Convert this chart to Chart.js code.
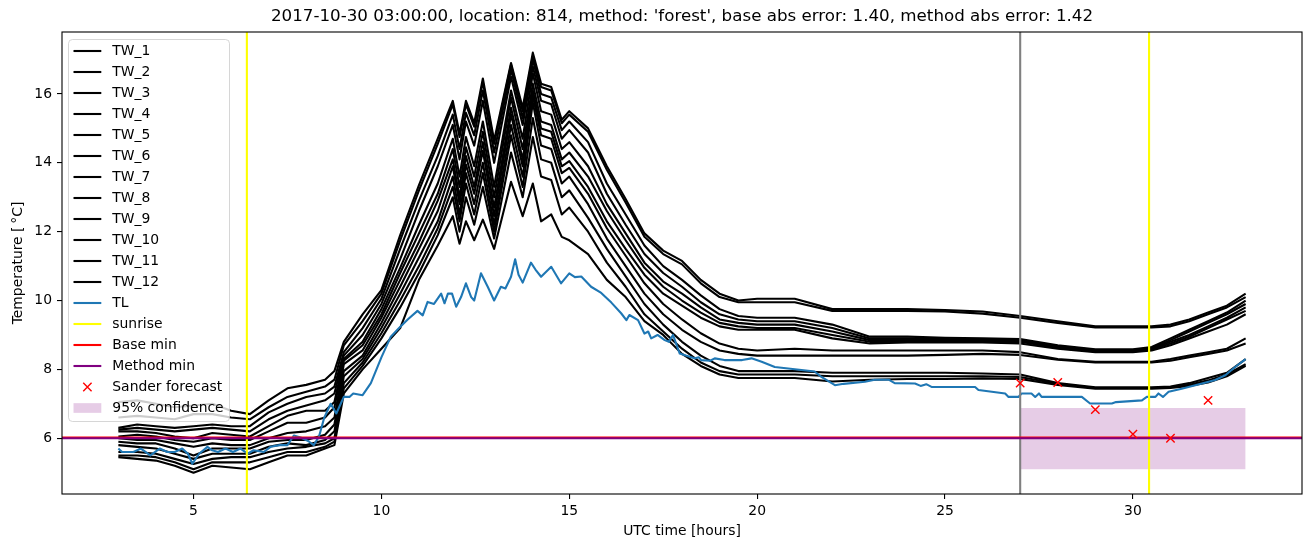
<!DOCTYPE html>
<html>
<head>
<meta charset="utf-8">
<title>TW forecast</title>
<script src="https://cdn.jsdelivr.net/npm/chart.js@4.4.1/dist/chart.umd.min.js"></script>
<style>
  html, body { margin: 0; padding: 0; background: #fff; }
  #wrap { width: 1311px; height: 547px; }
</style>
</head>
<body>
<div id="wrap"><canvas id="chart" width="1311" height="547"></canvas></div>
<script>
// Road temperature plot - TW sensors, TL and Sander forecast

// Hours for the TW sensor lines
const twHours = [3, 3.5, 4, 4.5, 5, 5.5, 6, 6.5, 7, 7.5, 8, 8.5, 8.75, 9, 9.5, 10, 10.5, 11, 11.5, 11.9,
  12.08, 12.25, 12.47, 12.7, 13.0, 13.45, 13.76, 14.03, 14.25, 14.52, 14.8, 15.0, 15.5, 16, 16.5, 17, 17.5, 18, 18.5, 19,
  19.5, 20, 21, 22, 23, 24, 25, 26, 27, 28, 29, 30, 30.5, 31, 31.5, 32, 32.5, 33];

const tw1 = [7.05, 7.1, 7.0, 6.9, 6.95, 7.0, 6.8, 6.7, 7.1, 7.45, 7.55, 7.7, 7.95, 8.8, 9.6, 10.3, 11.9, 13.35, 14.7, 15.8, 14.85, 15.8, 15.15, 16.45, 14.65, 16.9, 15.6, 17.2, 16.3, 16.2, 15.25, 15.5, 15.0, 13.9, 12.95, 11.95, 11.45, 11.15, 10.6, 10.2, 10.0, 10.05, 10.05, 9.75, 9.75, 9.75, 9.72, 9.68, 9.55, 9.4, 9.25, 9.25, 9.25, 9.3, 9.45, 9.65, 9.85, 10.2];
const tw2 = [6.6, 6.65, 6.6, 6.55, 6.7, 6.7, 6.6, 6.55, 6.9, 7.2, 7.35, 7.5, 7.7, 8.7, 9.4, 10.2, 11.75, 13.2, 14.55, 15.7, 14.75, 15.7, 15.05, 16.35, 14.55, 16.85, 15.5, 17.1, 16.2, 16.1, 15.15, 15.4, 14.9, 13.8, 12.85, 11.85, 11.35, 11.05, 10.5, 10.1, 9.95, 9.95, 9.95, 9.7, 9.7, 9.7, 9.68, 9.62, 9.5, 9.35, 9.22, 9.22, 9.22, 9.25, 9.4, 9.6, 9.8, 10.1];
const tw3 = [6.3, 6.4, 6.35, 6.3, 6.35, 6.4, 6.35, 6.35, 6.75, 7.0, 7.2, 7.3, 7.5, 8.5, 9.2, 10.05, 11.5, 12.9, 14.2, 15.4, 14.4, 15.45, 14.8, 16.1, 14.3, 16.7, 15.3, 17.0, 16.0, 15.9, 14.95, 15.2, 14.6, 13.4, 12.5, 11.6, 11.0, 10.6, 10.15, 9.75, 9.55, 9.5, 9.5, 9.3, 8.95, 8.95, 8.92, 8.9, 8.88, 8.7, 8.58, 8.58, 8.65, 8.9, 9.15, 9.4, 9.65, 10.0];
const tw4 = [6.25, 6.3, 6.25, 6.2, 6.25, 6.3, 6.25, 6.2, 6.55, 6.8, 6.95, 7.1, 7.3, 8.4, 9.0, 9.9, 11.2, 12.6, 13.9, 15.1, 14.1, 15.2, 14.5, 15.8, 14.0, 16.5, 15.1, 16.8, 15.8, 15.7, 14.7, 14.95, 14.3, 13.1, 12.2, 11.35, 10.8, 10.4, 9.95, 9.6, 9.45, 9.4, 9.4, 9.2, 8.9, 8.9, 8.88, 8.87, 8.85, 8.68, 8.56, 8.56, 8.62, 8.85, 9.1, 9.35, 9.6, 9.9];
const tw5 = [6.2, 6.2, 6.15, 6.05, 6.0, 6.15, 6.1, 6.05, 6.35, 6.65, 6.8, 6.8, 7.05, 8.3, 8.8, 9.75, 10.95, 12.2, 13.4, 14.7, 13.6, 14.75, 13.9, 15.2, 13.3, 16.1, 14.7, 16.6, 15.5, 15.4, 14.4, 14.6, 13.9, 12.8, 11.95, 11.1, 10.55, 10.2, 9.8, 9.45, 9.35, 9.3, 9.3, 9.1, 8.85, 8.85, 8.85, 8.83, 8.82, 8.65, 8.54, 8.54, 8.6, 8.8, 9.0, 9.25, 9.5, 9.8];
const tw6 = [6.05, 6.1, 6.05, 5.95, 5.9, 6.0, 5.95, 5.95, 6.2, 6.45, 6.45, 6.6, 6.9, 8.25, 8.7, 9.6, 10.8, 11.95, 13.1, 14.4, 13.3, 14.45, 13.6, 14.9, 13.0, 15.9, 14.4, 16.3, 15.2, 15.1, 14.1, 14.3, 13.6, 12.6, 11.75, 10.95, 10.4, 10.0, 9.65, 9.35, 9.25, 9.2, 9.2, 9.0, 8.8, 8.8, 8.8, 8.8, 8.8, 8.62, 8.52, 8.52, 8.58, 8.75, 8.95, 9.2, 9.45, 9.7];
const tw7 = [6.0, 5.95, 5.95, 5.85, 5.75, 5.85, 5.8, 5.8, 6.0, 6.15, 6.2, 6.35, 6.6, 8.15, 8.55, 9.5, 10.6, 11.7, 12.9, 14.1, 13.0, 14.2, 13.3, 14.6, 12.7, 15.6, 14.1, 16.1, 15.0, 14.9, 13.9, 14.05, 13.3, 12.3, 11.5, 10.75, 10.2, 9.85, 9.5, 9.25, 9.15, 9.15, 9.15, 8.9, 8.75, 8.78, 8.78, 8.78, 8.75, 8.6, 8.5, 8.5, 8.55, 8.7, 8.9, 9.1, 9.3, 9.6];
const tw8 = [5.9, 5.85, 5.85, 5.7, 5.5, 5.7, 5.7, 5.7, 5.9, 5.95, 5.95, 6.1, 6.4, 7.95, 8.4, 9.35, 10.4, 11.5, 12.6, 13.9, 12.8, 13.95, 13.1, 14.35, 12.45, 15.4, 13.9, 15.95, 14.8, 14.7, 13.7, 13.85, 13.1, 12.1, 11.3, 10.5, 9.9, 9.45, 9.05, 8.75, 8.6, 8.55, 8.6, 8.55, 8.55, 8.55, 8.55, 8.55, 8.5, 8.3, 8.22, 8.22, 8.22, 8.3, 8.4, 8.5, 8.6, 8.9];
const tw9 = [5.8, 5.75, 5.7, 5.55, 5.4, 5.55, 5.55, 5.55, 5.75, 5.85, 5.8, 5.95, 6.2, 7.8, 8.3, 9.2, 10.2, 11.25, 12.3, 13.6, 12.5, 13.7, 12.8, 14.0, 12.2, 15.1, 13.6, 15.75, 14.5, 14.4, 13.4, 13.6, 12.8, 11.8, 11.0, 10.2, 9.6, 9.15, 8.8, 8.55, 8.45, 8.4, 8.4, 8.4, 8.4, 8.4, 8.42, 8.45, 8.42, 8.28, 8.2, 8.2, 8.2, 8.25, 8.35, 8.45, 8.55, 8.75];
const tw10 = [5.6, 5.6, 5.55, 5.4, 5.25, 5.4, 5.45, 5.45, 5.6, 5.7, 5.75, 5.85, 6.0, 7.6, 8.2, 9.05, 10.0, 11.0, 12.1, 13.3, 12.3, 13.4, 12.5, 13.7, 12.0, 14.8, 13.3, 15.3, 14.1, 14.0, 13.0, 13.2, 12.4, 11.5, 10.7, 9.9, 9.3, 8.8, 8.4, 8.1, 7.95, 7.95, 7.95, 7.9, 7.9, 7.9, 7.9, 7.88, 7.85, 7.6, 7.48, 7.48, 7.48, 7.5, 7.6, 7.75, 7.9, 8.3];
const tw11 = [5.5, 5.5, 5.45, 5.3, 5.1, 5.3, 5.3, 5.3, 5.45, 5.6, 5.6, 5.75, 5.9, 7.45, 8.1, 8.9, 9.8, 10.8, 11.9, 13.0, 12.0, 13.0, 12.2, 13.3, 11.8, 14.3, 13.0, 14.75, 13.6, 13.5, 12.5, 12.7, 12.0, 11.1, 10.4, 9.6, 9.1, 8.6, 8.2, 7.95, 7.85, 7.85, 7.85, 7.8, 7.8, 7.8, 7.8, 7.8, 7.78, 7.58, 7.46, 7.46, 7.46, 7.48, 7.55, 7.68, 7.85, 8.15];
const tw12 = [5.45, 5.4, 5.35, 5.2, 5.0, 5.2, 5.15, 5.1, 5.3, 5.5, 5.5, 5.7, 5.8, 7.3, 8.0, 8.6, 9.2, 10.6, 11.6, 12.45, 11.65, 12.3, 11.75, 12.35, 11.5, 13.45, 12.45, 13.4, 12.3, 12.5, 11.85, 11.75, 11.35, 10.6, 10.1, 9.4, 9.0, 8.45, 8.1, 7.85, 7.75, 7.75, 7.75, 7.65, 7.7, 7.72, 7.72, 7.74, 7.72, 7.55, 7.44, 7.44, 7.44, 7.46, 7.52, 7.62, 7.8, 8.1];

const twSeries = [tw1, tw2, tw3, tw4, tw5, tw6, tw7, tw8, tw9, tw10, tw11, tw12];
const twNames = ['TW_1', 'TW_2', 'TW_3', 'TW_4', 'TW_5', 'TW_6', 'TW_7', 'TW_8', 'TW_9', 'TW_10', 'TW_11', 'TW_12'];

// TL (air temperature)
const tlHours = [3.0, 3.1, 3.4, 3.6, 3.85, 4.1, 4.3, 4.5, 4.7, 4.85, 4.97, 5.15, 5.37, 5.5, 5.65, 5.85, 6.05, 6.25, 6.44, 6.6,
  6.87, 7.05, 7.3, 7.5, 7.67, 7.85, 8.05, 8.2, 8.34, 8.48, 8.65, 8.8, 9.0, 9.15, 9.25, 9.5, 9.72, 10.0, 10.25, 10.47,
  10.7, 10.96, 11.1, 11.23, 11.4, 11.59, 11.68, 11.77, 11.88, 11.99, 12.12, 12.25, 12.39, 12.47, 12.65, 12.83, 13.0, 13.18, 13.3, 13.45,
  13.56, 13.65, 13.76, 13.98, 14.1, 14.25, 14.52, 14.78, 15.0, 15.15, 15.32, 15.58, 15.85, 16.12, 16.38, 16.52, 16.6, 16.83, 17.0, 17.1,
  17.18, 17.35, 17.54, 17.65, 17.76, 17.94, 18.1, 18.33, 18.45, 18.51, 18.75, 18.87, 19.13, 19.6, 19.85, 20.12, 20.47, 21.18, 21.53, 21.71,
  22.07, 22.3, 22.87, 23.13, 23.5, 23.66, 24.2, 24.35, 24.5, 24.64, 25.8, 25.89, 26.6, 26.69, 26.95, 27.04, 27.3, 27.4, 27.5, 27.57,
  28.64, 28.86, 29.44, 29.55, 30.24, 30.37, 30.6, 30.68, 30.8, 30.95, 31.3, 31.84, 32.19, 32.46, 32.72, 33.0];
const tlTemp = [5.7, 5.6, 5.6, 5.7, 5.5, 5.7, 5.6, 5.6, 5.7, 5.55, 5.26, 5.55, 5.75, 5.65, 5.6, 5.7, 5.6, 5.7, 5.55, 5.65,
  5.6, 5.75, 5.8, 5.8, 6.08, 6.02, 5.92, 5.8, 6.05, 6.6, 7.0, 6.72, 7.2, 7.2, 7.3, 7.25, 7.6, 8.35, 8.95, 9.2,
  9.45, 9.7, 9.57, 9.96, 9.9, 10.2, 9.92, 10.2, 10.2, 9.82, 10.1, 10.5, 10.1, 10.0, 10.79, 10.4, 10.0, 10.4, 10.35, 10.69,
  11.2, 10.75, 10.52, 11.1, 10.9, 10.69, 10.98, 10.5, 10.79, 10.68, 10.7, 10.4, 10.22, 9.94, 9.63, 9.43, 9.58, 9.43, 9.04, 9.1,
  8.9, 9.0, 8.85, 8.8, 9.0, 8.46, 8.4, 8.32, 8.35, 8.27, 8.25, 8.32, 8.27, 8.27, 8.32, 8.22, 8.07, 7.98, 7.94, 7.78,
  7.54, 7.58, 7.64, 7.7, 7.7, 7.6, 7.59, 7.52, 7.57, 7.49, 7.49, 7.4, 7.3, 7.2, 7.2, 7.3, 7.3, 7.2, 7.3, 7.2,
  7.2, 7.01, 7.01, 7.05, 7.1, 7.2, 7.2, 7.3, 7.2, 7.35, 7.44, 7.59, 7.69, 7.83, 8.07, 8.3];

// Sander forecast and its 95% band
const sanderHours = [27, 28, 29, 30, 31, 32];
const sanderTemp = [7.6, 7.62, 6.83, 6.12, 6.0, 7.1];
const confHours = [27, 33];
const confLow = [5.1, 5.1];
const confHigh = [6.88, 6.88];

// Reference lines
const sunriseHours = [6.42, 30.43];
const nowHours = [27];
const baseMin = 6.02;
const methodMin = 6.0;

// Axes
const xTicks = [5, 10, 15, 20, 25, 30];
const yTicks = [6, 8, 10, 12, 14, 16];
const xRange = [1.5, 34.5];
const yRange = [4.38, 17.8];

const titleText = "2017-10-30 03:00:00, location: 814, method: 'forest', base abs error: 1.40, method abs error: 1.42";

const FONT = '"DejaVu Sans", "Liberation Sans", sans-serif';
const TL_COLOR = '#1f77b4';
const CONF_FILL = 'rgba(128, 0, 128, 0.2)';
const LW = 2.1;

const pts = (xs, ys) => xs.map((x, i) => ({ x: x, y: ys[i] }));

// Build datasets in matplotlib drawing order (later = on top)
const datasets = [];
datasets.push({ label: 'conf_low', data: pts(confHours, confLow), borderColor: 'rgba(0,0,0,0)', borderWidth: 0, pointRadius: 0, fill: false });
datasets.push({ label: '95% confidence', data: pts(confHours, confHigh), borderColor: 'rgba(0,0,0,0)', borderWidth: 0, pointRadius: 0, fill: '-1', backgroundColor: CONF_FILL });
twSeries.forEach((series, i) => {
    datasets.push({ label: twNames[i], data: pts(twHours, series), borderColor: '#000000', borderWidth: LW, pointRadius: 0, fill: false });
});
datasets.push({ label: 'TL', data: pts(tlHours, tlTemp), borderColor: TL_COLOR, borderWidth: LW, pointRadius: 0, fill: false });
const tlIndex = datasets.length - 1;
datasets.push({ label: 'Sander forecast', data: pts(sanderHours, sanderTemp), showLine: false, borderColor: '#ff0000', backgroundColor: '#ff0000',
    pointStyle: 'crossRot', pointRadius: 5.9, pointBorderWidth: 1.4, fill: false });
datasets.forEach((d, i) => { d.order = datasets.length - i; d.borderJoinStyle = 'round'; });

const legendItems = [
    ...twNames.map(n => ({ label: n, kind: 'line', color: '#000000' })),
    { label: 'TL', kind: 'line', color: TL_COLOR },
    { label: 'sunrise', kind: 'line', color: '#ffff00' },
    { label: 'Base min', kind: 'line', color: '#ff0000' },
    { label: 'Method min', kind: 'line', color: '#800080' },
    { label: 'Sander forecast', kind: 'marker', color: '#ff0000' },
    { label: '95% confidence', kind: 'patch', color: CONF_FILL }
];

// Vertical / horizontal reference lines, drawn right after TL
const refLines = {
    id: 'refLines',
    afterDatasetDraw(chart, args) {
        if (args.index !== tlIndex) return;
        const ctx = chart.ctx, ca = chart.chartArea;
        const xs = chart.scales.x, ys = chart.scales.y;
        ctx.save();
        ctx.beginPath();
        ctx.rect(ca.left, ca.top, ca.right - ca.left, ca.bottom - ca.top);
        ctx.clip();
        ctx.lineWidth = LW;
        const vline = (h, color) => {
            const px = xs.getPixelForValue(h);
            ctx.strokeStyle = color;
            ctx.beginPath(); ctx.moveTo(px, ca.top); ctx.lineTo(px, ca.bottom); ctx.stroke();
        };
        const hline = (v, color) => {
            const py = ys.getPixelForValue(v);
            ctx.strokeStyle = color;
            ctx.beginPath(); ctx.moveTo(ca.left, py); ctx.lineTo(ca.right, py); ctx.stroke();
        };
        nowHours.forEach(h => vline(h, '#808080'));
        sunriseHours.forEach(h => vline(h, '#ffff00'));
        hline(baseMin, '#ff0000');
        hline(methodMin, '#800080');
        ctx.restore();
    }
};

// Frame, title, axis labels and legend
const decorations = {
    id: 'decorations',
    afterDatasetsDraw(chart) {
        const ctx = chart.ctx, ca = chart.chartArea;
        ctx.save();
        ctx.strokeStyle = '#000';
        ctx.lineWidth = 1.1;
        ctx.strokeRect(ca.left, ca.top, ca.right - ca.left, ca.bottom - ca.top);
        ctx.restore();
    },
    afterDraw(chart) {
        const ctx = chart.ctx, ca = chart.chartArea;
        ctx.save();
        ctx.fillStyle = '#000';
        ctx.textAlign = 'center';
        ctx.textBaseline = 'middle';
        ctx.font = '16.7px ' + FONT;
        ctx.fillText(titleText, (ca.left + ca.right) / 2, 17);

        ctx.font = '13.9px ' + FONT;
        ctx.fillText('UTC time [hours]', (ca.left + ca.right) / 2, 531);
        ctx.save();
        ctx.translate(18, (ca.top + ca.bottom) / 2);
        ctx.rotate(-Math.PI / 2);
        ctx.fillText('Temperature [\u2009\u00B0C]', 0, 0);
        ctx.restore();

        drawLegend(ctx);
        ctx.restore();
    }
};

function drawLegend(ctx) {
    const x0 = 68.5, y0 = 39.5, w = 161, h = 382, r = 4;
    ctx.save();
    ctx.beginPath();
    ctx.moveTo(x0 + r, y0);
    ctx.lineTo(x0 + w - r, y0);
    ctx.arcTo(x0 + w, y0, x0 + w, y0 + r, r);
    ctx.lineTo(x0 + w, y0 + h - r);
    ctx.arcTo(x0 + w, y0 + h, x0 + w - r, y0 + h, r);
    ctx.lineTo(x0 + r, y0 + h);
    ctx.arcTo(x0, y0 + h, x0, y0 + h - r, r);
    ctx.lineTo(x0, y0 + r);
    ctx.arcTo(x0, y0, x0 + r, y0, r);
    ctx.closePath();
    ctx.fillStyle = 'rgba(255,255,255,0.8)';
    ctx.fill();
    ctx.strokeStyle = 'rgba(204,204,204,0.8)';
    ctx.lineWidth = 1;
    ctx.stroke();

    const hx0 = 73.5, hx1 = 101.3;
    legendItems.forEach((item, i) => {
        const cy = 51 + i * 21.0;
        if (item.kind === 'line') {
            ctx.strokeStyle = item.color;
            ctx.lineWidth = LW;
            ctx.beginPath(); ctx.moveTo(hx0, cy); ctx.lineTo(hx1, cy); ctx.stroke();
        } else if (item.kind === 'marker') {
            const cx = (hx0 + hx1) / 2, s = 4.17;
            ctx.strokeStyle = item.color;
            ctx.lineWidth = 1.4;
            ctx.beginPath();
            ctx.moveTo(cx - s, cy - s); ctx.lineTo(cx + s, cy + s);
            ctx.moveTo(cx - s, cy + s); ctx.lineTo(cx + s, cy - s);
            ctx.stroke();
        } else {
            ctx.fillStyle = item.color;
            ctx.fillRect(hx0, cy - 4.85, hx1 - hx0, 9.7);
        }
        ctx.fillStyle = '#000';
        ctx.font = '13.9px ' + FONT;
        ctx.textAlign = 'left';
        ctx.textBaseline = 'middle';
        ctx.fillText(item.label, 112.3, cy + 0.5);
    });
    ctx.restore();
}

const tickFont = { family: FONT, size: 13.9 };

new Chart(document.getElementById('chart'), {
    type: 'line',
    data: { datasets: datasets },
    options: {
        responsive: false,
        animation: false,
        devicePixelRatio: 1,
        layout: { padding: { left: 0, top: 32, right: 9, bottom: 0 } },
        plugins: {
            legend: { display: false },
            tooltip: { enabled: false },
            title: { display: false }
        },
        elements: { line: { tension: 0 } },
        scales: {
            x: {
                type: 'linear',
                min: xRange[0],
                max: xRange[1],
                afterBuildTicks: (s) => { s.ticks = xTicks.map(v => ({ value: v })); },
                afterFit: (s) => { s.height = 53; },
                grid: { drawOnChartArea: false, drawTicks: true, tickLength: 5, color: '#000', lineWidth: 1.1 },
                border: { display: false },
                ticks: { color: '#000', font: tickFont, padding: 4, maxRotation: 0, autoSkip: false }
            },
            y: {
                type: 'linear',
                min: yRange[0],
                max: yRange[1],
                afterBuildTicks: (s) => { s.ticks = yTicks.map(v => ({ value: v })); },
                afterFit: (s) => { s.width = 62; },
                grid: { drawOnChartArea: false, drawTicks: true, tickLength: 5, color: '#000', lineWidth: 1.1 },
                border: { display: false },
                ticks: { color: '#000', font: tickFont, padding: 5, autoSkip: false }
            }
        }
    },
    plugins: [refLines, decorations]
});
</script>
</body>
</html>
